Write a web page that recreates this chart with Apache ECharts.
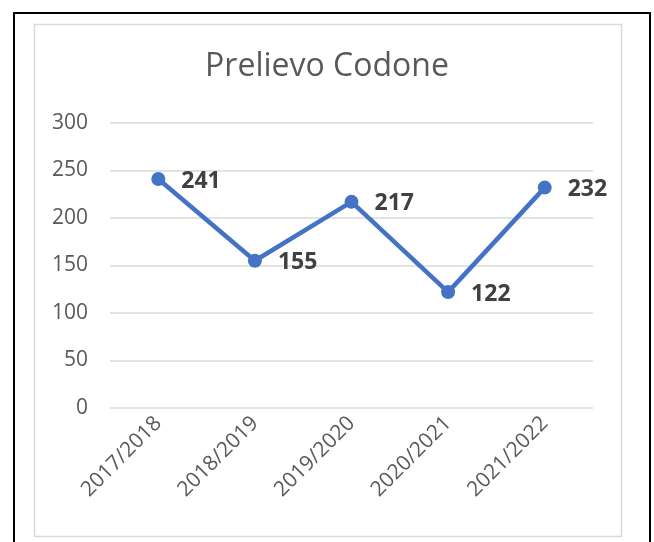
<!DOCTYPE HTML>
<html lang="en">
<head>
<meta charset="utf-8">
<title>Prelievo Codone</title>
<script src="https://cdn.jsdelivr.net/npm/echarts@6/dist/echarts.min.js"></script>
<style>
html, body {
  margin: 0;
  background: #fff;
}
#chart {
  width: 654px;
  height: 542px;
}
</style>
</head>
<body>
<div id="chart"></div>
<script>
var seasons = ['2017/2018', '2018/2019', '2019/2020', '2020/2021', '2021/2022'];
var prelievo = [241, 155, 217, 122, 232];
var yTicks = [0, 50, 100, 150, 200, 250, 300];

var chart = echarts.init(document.getElementById('chart'));
chart.setOption({
  animation: false,
  textStyle: { fontFamily: 'Open Sans' },
  title: {
    text: 'Prelievo Codone',
    left: 'center',
    top: 46,
    textStyle: {
      fontFamily: 'Open Sans',
      fontSize: 32,
      fontWeight: 'normal',
      color: '#595959'
    }
  },
  graphic: [
    {
      type: 'rect',
      shape: { x: 14, y: 13, width: 636, height: 540 },
      style: { fill: 'none', stroke: '#000', lineWidth: 2 }
    },
    {
      type: 'rect',
      shape: { x: 34.5, y: 24.5, width: 587, height: 512 },
      style: { fill: 'none', stroke: '#d9d9d9', lineWidth: 1.5 }
    }
  ],
  grid: {
    left: 110,
    right: 61,
    top: 123,
    bottom: 134,
    containLabel: false
  },
  xAxis: {
    type: 'category',
    data: seasons,
    boundaryGap: true,
    axisLine: { show: false },
    axisTick: { show: false },
    axisLabel: {
      rotate: 45,
      margin: 12,
      fontSize: 21,
      color: '#595959'
    }
  },
  yAxis: {
    type: 'value',
    min: yTicks[0],
    max: yTicks[yTicks.length - 1],
    interval: 50,
    axisLine: { show: false },
    axisTick: { show: false },
    axisLabel: {
      margin: 22,
      fontSize: 21,
      color: '#595959'
    },
    splitLine: { lineStyle: { color: '#d9d9d9', width: 1.5 } }
  },
  series: [{
    type: 'line',
    data: prelievo,
    symbol: 'circle',
    symbolSize: 14,
    itemStyle: { color: '#4472C4' },
    lineStyle: { color: '#4472C4', width: 4.5 },
    label: {
      show: true,
      position: 'right',
      distance: 16,
      offset: [0, 2],
      fontSize: 23,
      fontWeight: 'bold',
      color: '#404040'
    }
  }]
});
</script>
</body>
</html>
